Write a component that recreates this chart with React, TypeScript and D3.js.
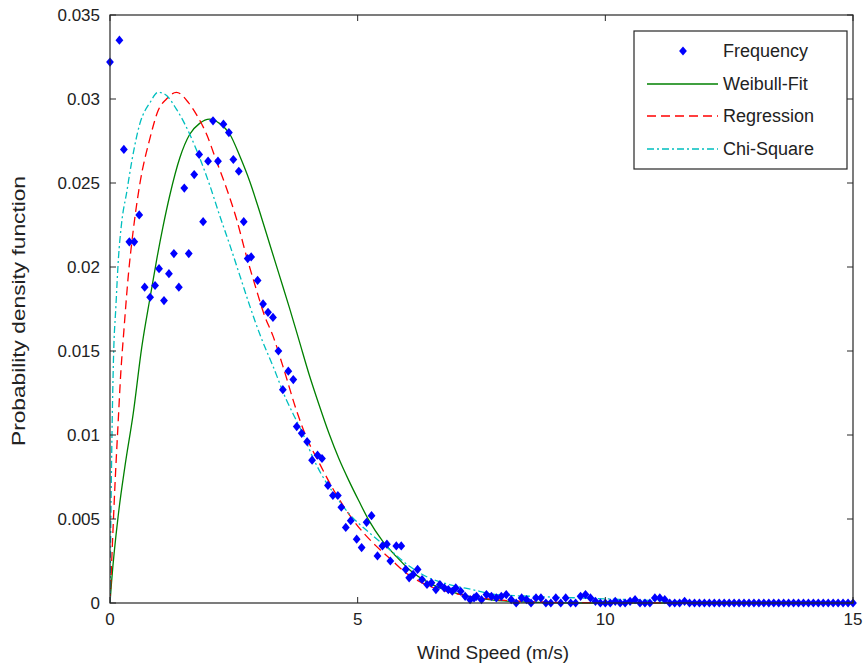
import React from "react";
import * as d3 from "d3";

// ---------- data ----------
const freqX = [
  0.0, 0.19, 0.28, 0.39, 0.49, 0.59, 0.7, 0.81, 0.91, 0.99, 1.09, 1.19, 1.29, 1.39, 1.5, 1.59, 1.7, 1.8, 1.88, 1.98,
  2.08, 2.18, 2.29, 2.4, 2.49, 2.6, 2.7, 2.78, 2.85, 2.98, 3.09, 3.19, 3.29, 3.4, 3.49, 3.6, 3.7, 3.77, 3.87, 3.98,
  4.08, 4.19, 4.28, 4.4, 4.5, 4.6, 4.67, 4.76, 4.86, 4.98, 5.08, 5.18, 5.28, 5.4, 5.5, 5.59, 5.66, 5.78, 5.88, 5.97,
  6.04, 6.12, 6.21, 6.3, 6.4, 6.49, 6.58, 6.66, 6.75, 6.83, 6.91, 6.98, 7.08, 7.17, 7.27, 7.35, 7.4, 7.5, 7.6, 7.7,
  7.8, 7.9, 8.0, 8.1, 8.2, 8.31, 8.41, 8.5, 8.6, 8.7, 8.8, 8.9, 9.0, 9.1, 9.2, 9.3, 9.4, 9.5, 9.6, 9.7,
  9.8, 9.9, 10.0, 10.1, 10.2, 10.3, 10.4, 10.5, 10.6, 10.7, 10.8, 10.9, 11.0, 11.1, 11.2, 11.3, 11.4, 11.5, 11.6, 11.7,
  11.8, 11.9, 12.0, 12.1, 12.2, 12.3, 12.4, 12.5, 12.6, 12.7, 12.8, 12.9, 13.0, 13.1, 13.2, 13.3, 13.4, 13.5, 13.6, 13.7,
  13.8, 13.9, 14.0, 14.1, 14.2, 14.3, 14.4, 14.5, 14.6, 14.7, 14.8, 14.9, 15.0,
];
const freqY = [
  0.0322, 0.0335, 0.027, 0.0215, 0.0215, 0.0231, 0.0188, 0.0182, 0.0189, 0.0199, 0.018, 0.0196, 0.0208, 0.0188, 0.0247, 0.0208, 0.0255, 0.0267, 0.0227, 0.0263,
  0.0287, 0.0263, 0.0285, 0.028, 0.0264, 0.0257, 0.0227, 0.0205, 0.0206, 0.0192, 0.0178, 0.0173, 0.017, 0.015, 0.0127, 0.0138, 0.0133, 0.0105, 0.0101, 0.0096,
  0.0085, 0.0088, 0.0086, 0.007, 0.0064, 0.0064, 0.0057, 0.0045, 0.0049, 0.0038, 0.0033, 0.0048, 0.0052, 0.0028, 0.0034, 0.0035, 0.0025, 0.0034, 0.0034, 0.002,
  0.0015, 0.0017, 0.002, 0.0014, 0.0011, 0.0012, 0.0008, 0.0011, 0.0009, 0.0008, 0.0007, 0.0009, 0.0007, 0.0004, 0.0002, 0.0003, 0.0004, 0.0002, 0.0005, 0.0004,
  0.0003, 0.0004, 0.0005, 0.0002, 0.0, 0.0003, 0.0002, 0.0, 0.0003, 0.0003, 0.0, 0.0, 0.0003, 0.0, 0.0003, 0.0, 0.0, 0.0004, 0.0005, 0.0003,
  0.0001, 0.0, 0.0, 0.0, 0.0001, 0.0, 0.0, 0.0001, 0.0002, 0.0, 0.0, 0.0, 0.0003, 0.0003, 0.0002, 0.0, 0.0, 0.0, 0.0001, 0.0,
  0.0, 0.0, 0.0, 0.0, 0.0, 0.0, 0.0, 0.0, 0.0, 0.0, 0.0, 0.0, 0.0, 0.0, 0.0, 0.0, 0.0, 0.0, 0.0, 0.0,
  0.0, 0.0, 0.0, 0.0, 0.0, 0.0, 0.0, 0.0, 0.0, 0.0, 0.0, 0.0, 0.0,
];

const weibullX = [0, 0.03, 0.17, 0.3, 0.47, 0.64, 0.81, 0.94, 1.07, 1.21, 1.41, 1.61, 1.81, 2.01, 2.21, 2.42, 2.62, 2.82, 3.02, 3.22, 3.42, 3.62, 3.82, 4.02, 4.22, 4.42, 4.62, 4.82, 5.02, 5.23, 5.5, 5.77, 6.04, 6.44, 6.85, 7.25, 7.65, 8.5, 9.5, 15];
const weibullY = [0, 0.0012, 0.0053, 0.0081, 0.0113, 0.0152, 0.0182, 0.0204, 0.0224, 0.0243, 0.0265, 0.0279, 0.02855, 0.0288, 0.02855, 0.0279, 0.0266, 0.0251, 0.0233, 0.0214, 0.0195, 0.0176, 0.0156, 0.0136, 0.0118, 0.0101, 0.0086, 0.0073, 0.0061, 0.0049, 0.0037, 0.0028, 0.002, 0.0012, 0.0007, 0.0004, 0.0002, 0.00005, 0, 0];

const regressionX = [0, 0.05, 0.1, 0.16, 0.22, 0.28, 0.37, 0.47, 0.6, 0.81, 0.97, 1.14, 1.34, 1.58, 1.74, 1.95, 2.15, 2.35, 2.55, 2.75, 2.95, 3.12, 3.29, 3.49, 3.76, 3.96, 4.23, 4.5, 4.97, 5.37, 5.67, 5.97, 6.37, 6.78, 7.25, 7.78, 8.5, 9.5, 15];
const regressionY = [0, 0.0036, 0.007, 0.0105, 0.0138, 0.0162, 0.0195, 0.0222, 0.0249, 0.0277, 0.0293, 0.03, 0.0304, 0.0298, 0.0291, 0.0279, 0.0263, 0.0247, 0.0229, 0.0207, 0.0187, 0.0171, 0.0159, 0.0141, 0.0115, 0.0099, 0.0083, 0.0068, 0.0047, 0.0034, 0.0026, 0.0018, 0.0011, 0.0007, 0.0004, 0.0002, 0.00008, 0.00002, 0];

const chiX = [0, 0.03, 0.07, 0.12, 0.17, 0.23, 0.34, 0.44, 0.6, 0.81, 0.97, 1.1, 1.34, 1.61, 1.81, 2.01, 2.21, 2.42, 2.62, 2.82, 3.05, 3.29, 3.56, 3.69, 3.89, 4.09, 4.26, 4.5, 4.83, 5.23, 5.64, 6.04, 6.44, 6.85, 7.31, 7.8, 8.5, 9.5, 10.5, 11.5, 12.5, 15];
const chiY = [0, 0.008, 0.0145, 0.0177, 0.0205, 0.0225, 0.0245, 0.0263, 0.0285, 0.0298, 0.0304, 0.0303, 0.0294, 0.0279, 0.0265, 0.0249, 0.0231, 0.0213, 0.0195, 0.0177, 0.0158, 0.0141, 0.0121, 0.0113, 0.0101, 0.0087, 0.0077, 0.0066, 0.0053, 0.0042, 0.0032, 0.0022, 0.0015, 0.0011, 0.0008, 0.0005, 0.0004, 0.0003, 0.0002, 0.0001, 0, 0];

const xTicks = [0, 5, 10, 15];
const yTicks = [0, 0.005, 0.01, 0.015, 0.02, 0.025, 0.03, 0.035];
const yTickLabels = ["0", "0.005", "0.01", "0.015", "0.02", "0.025", "0.03", "0.035"];
const legendLabels = ["Frequency", "Weibull-Fit", "Regression", "Chi-Square"];

// ---------- layout ----------
const W = 866;
const H = 669;
const left = 110;
const right = 853;
const top = 15;
const bottom = 603;
const FONT = "'Liberation Sans', Arial, Helvetica, sans-serif";

export default function App() {
  const x = d3.scaleLinear().domain([0, 15]).range([left, right]);
  const y = d3.scaleLinear().domain([0, 0.035]).range([bottom, top]);

  const mk = (xs: number[], ys: number[]) => xs.map((v, i) => [v, ys[i]] as [number, number]);
  const line = d3
    .line<[number, number]>()
    .x((d) => x(d[0]))
    .y((d) => y(d[1]))
    .curve(d3.curveMonotoneX);

  const freq = mk(freqX, freqY);
  const diamond = "M0,-4.6L3.9,0L0,4.6L-3.9,0Z";

  const series = [
    { name: legendLabels[1], d: line(mk(weibullX, weibullY)) || "", color: "#008000", dash: "" },
    { name: legendLabels[2], d: line(mk(regressionX, regressionY)) || "", color: "#ff0000", dash: "9,5" },
    { name: legendLabels[3], d: line(mk(chiX, chiY)) || "", color: "#00bfbf", dash: "7,3,2,3" },
  ];

  const tickLen = 6;
  const axisColor = "#262626";

  const legX = 634;
  const legY = 31;
  const legW = 213;
  const legH = 138;
  const legRows = [51, 84, 116, 149];

  return (
    <svg
      width={W}
      height={H}
      style={{ position: "absolute", left: 0, top: 0, background: "#fff" }}
      fontFamily={FONT}
    >
      <rect x={0} y={0} width={W} height={H} fill="#fff" />
      <clipPath id="plotclip">
        <rect x={left} y={top - 2} width={right - left} height={bottom - top + 8} />
      </clipPath>

      {/* curves */}
      <g clipPath="url(#plotclip)">
        {series.map((s) => (
          <path key={s.name} d={s.d} fill="none" stroke={s.color} strokeWidth={1.3} strokeDasharray={s.dash || undefined} />
        ))}
      </g>

      {/* frequency markers */}
      <g fill="#0000ff">
        {freq.map((d, i) => (
          <path key={i} d={diamond} transform={`translate(${x(d[0])},${y(d[1])})`} />
        ))}
      </g>

      {/* axes box */}
      <rect x={left} y={top} width={right - left} height={bottom - top} fill="none" stroke={axisColor} strokeWidth={1.2} />

      {/* x ticks */}
      {xTicks.map((t) => (
        <g key={"x" + t}>
          <line x1={x(t)} x2={x(t)} y1={bottom} y2={bottom - tickLen} stroke={axisColor} />
          <line x1={x(t)} x2={x(t)} y1={top} y2={top + tickLen} stroke={axisColor} />
          <text x={x(t)} y={bottom + 22} textAnchor="middle" fontSize={17} fill="#222">
            {t}
          </text>
        </g>
      ))}

      {/* y ticks */}
      {yTicks.map((t, i) => (
        <g key={"y" + t}>
          <line x1={left} x2={left + tickLen} y1={y(t)} y2={y(t)} stroke={axisColor} />
          <line x1={right} x2={right - tickLen} y1={y(t)} y2={y(t)} stroke={axisColor} />
          <text x={left - 10} y={y(t) + 6} textAnchor="end" fontSize={17} fill="#222">
            {yTickLabels[i]}
          </text>
        </g>
      ))}

      {/* axis labels */}
      <text
        x={493}
        y={659}
        textAnchor="middle"
        fontSize={18}
        fill="#222"
        textLength={152}
        lengthAdjust="spacingAndGlyphs"
      >
        Wind Speed (m/s)
      </text>
      <text
        transform={`translate(25,311) rotate(-90)`}
        textAnchor="middle"
        fontSize={18}
        fill="#222"
        textLength={270}
        lengthAdjust="spacingAndGlyphs"
      >
        Probability density function
      </text>

      {/* legend */}
      <rect x={legX} y={legY} width={legW} height={legH} fill="#fff" stroke={axisColor} strokeWidth={1.2} />
      <path d={diamond} transform={`translate(683,${legRows[0]})`} fill="#0000ff" />
      {series.map((s, i) => (
        <line
          key={"leg" + s.name}
          x1={647}
          x2={718}
          y1={legRows[i + 1]}
          y2={legRows[i + 1]}
          stroke={s.color}
          strokeWidth={1.3}
          strokeDasharray={s.dash || undefined}
        />
      ))}
      {legendLabels.map((l, i) => (
        <text key={l} x={723} y={legRows[i] + 6} fontSize={18} fill="#222">
          {l}
        </text>
      ))}
    </svg>
  );
}
